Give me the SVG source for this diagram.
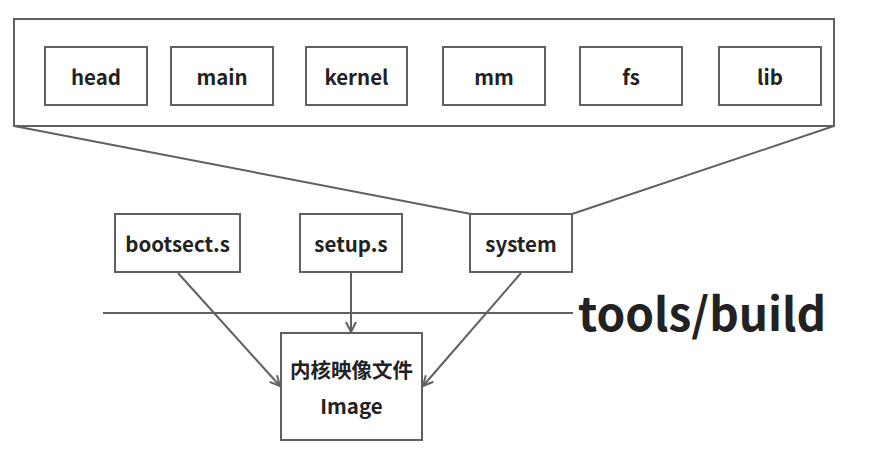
<svg xmlns="http://www.w3.org/2000/svg" width="870" height="454" viewBox="0 0 870 454">
<style>
.box{fill:#fff;stroke:#606060;stroke-width:2}
.lbl{font-family:"Noto Sans CJK SC","Open Sans",sans-serif;font-weight:bold;font-size:20.5px;fill:#222;text-anchor:middle}
.ln{stroke:#606060;stroke-width:2;fill:none}
</style>
<defs>
<marker id="ah" viewBox="0 0 12 12" refX="11" refY="6" markerWidth="12" markerHeight="12" markerUnits="userSpaceOnUse" orient="auto">
<path d="M1,1 L11,6 L1,11" fill="none" stroke="#606060" stroke-width="2"/>
</marker>
</defs>
<rect width="870" height="454" fill="#fff"/>
<g id="connectors">
<line class="ln" x1="14" y1="126" x2="471" y2="214"/>
<line class="ln" x1="834" y1="126" x2="572" y2="214"/>
<line class="ln" x1="103" y1="313" x2="573" y2="313"/>
<line class="ln" x1="178" y1="273" x2="280" y2="386" marker-end="url(#ah)"/>
<line class="ln" x1="351" y1="273" x2="351" y2="332" marker-end="url(#ah)"/>
<line class="ln" x1="521" y1="273" x2="423" y2="386" marker-end="url(#ah)"/>
</g>
<g id="system-container"><rect class="box" x="14" y="19" width="820" height="107"/></g>
<g id="head"><rect class="box" x="45" y="47" width="102" height="58"/><text class="lbl" x="96" y="85">head</text></g>
<g id="main"><rect class="box" x="171" y="47" width="102" height="58"/><text class="lbl" x="222" y="85">main</text></g>
<g id="kernel"><rect class="box" x="306" y="47" width="101" height="58"/><text class="lbl" x="356.5" y="85">kernel</text></g>
<g id="mm"><rect class="box" x="443" y="47" width="102" height="58"/><text class="lbl" x="494" y="85">mm</text></g>
<g id="fs"><rect class="box" x="580" y="47" width="102" height="58"/><text class="lbl" x="631" y="85">fs</text></g>
<g id="lib"><rect class="box" x="719" y="47" width="102" height="58"/><text class="lbl" x="770" y="85">lib</text></g>
<g id="bootsect"><rect class="box" x="115" y="214" width="125" height="58"/><text class="lbl" x="177.5" y="252">bootsect.s</text></g>
<g id="setup"><rect class="box" x="300" y="214" width="102" height="58"/><text class="lbl" x="351" y="252">setup.s</text></g>
<g id="system"><rect class="box" x="470" y="214" width="102" height="58"/><text class="lbl" x="521" y="252">system</text></g>
<g id="image"><rect class="box" x="281" y="333" width="141" height="107"/><text class="lbl" x="351.5" y="378" font-size="21.5px">内核映像文件</text><text class="lbl" x="351.5" y="414">Image</text></g>
<g id="tools-build"><text x="578" y="331" font-family="'Noto Sans CJK SC','Open Sans',sans-serif" font-weight="bold" font-size="46" fill="#222">tools/build</text></g>
</svg>
